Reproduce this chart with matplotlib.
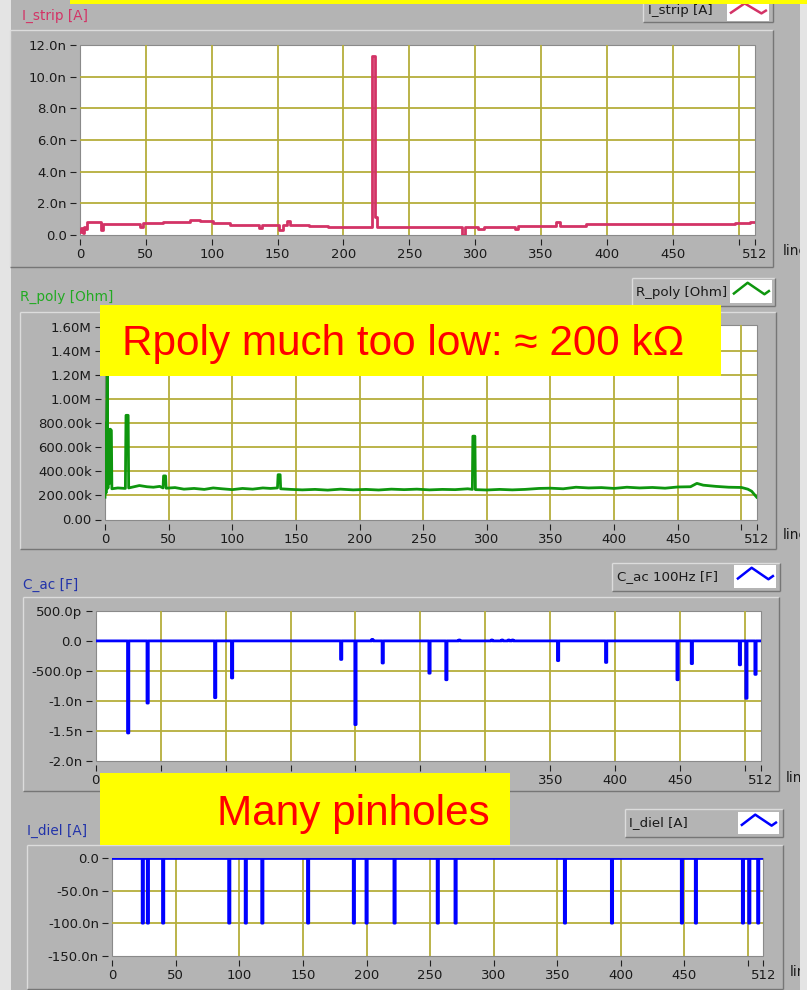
import matplotlib.pyplot as plt
import numpy as np
from matplotlib.lines import Line2D
from matplotlib.patches import Rectangle

W, H = 807, 990

# --------------------------------------------------
# Data
# --------------------------------------------------

n_strips = 512
strip_ticks = [0, 50, 100, 150, 200, 250, 300, 350, 400, 450, 500, 512]
strip_tick_labels = ["0", "50", "100", "150", "200", "250", "300", "350",
                     "400", "450", "", "512"]
grid_strips = [50, 100, 150, 200, 250, 300, 350, 400, 450, 500]

# I_strip [nA], step breakpoints (strip, value)
istrip_x = [0, 1, 2, 3, 4, 5.6, 15.7, 17.7, 45.6, 48, 63, 67, 83.6, 91,
            101, 114, 135.5, 138, 151, 154, 157, 159.5, 173.5, 188.6,
            222, 223.6, 225.4, 289.6, 292, 302, 307, 330, 332.5, 361.6,
            364, 384, 497, 508.6, 512]
istrip_y = [0.20, 0.45, 0.15, 0.50, 0.35, 0.80, 0.32, 0.69, 0.48, 0.74,
            0.84, 0.80, 0.93, 0.86, 0.74, 0.63, 0.42, 0.61, 0.30, 0.61,
            0.90, 0.61, 0.57, 0.53, 11.30, 1.15, 0.53, 0.00, 0.53, 0.40,
            0.53, 0.40, 0.55, 0.84, 0.57, 0.67, 0.74, 0.80, 0.80]

# R_poly [kOhm]
rpoly_x = [0, 0.3, 0.8, 1.3, 1.8, 2.3, 3, 3.6, 4.2, 5, 5.4, 10, 16, 16.5,
           18.2, 18.6, 22, 27, 33, 38, 43, 45.6, 46, 47.6, 48, 55, 62, 70,
           78, 85, 92, 100, 108, 116, 124, 130, 135.5, 136, 137.6, 138,
           146, 155, 165, 175, 185, 195, 205, 215, 225, 235, 245, 255, 265,
           275, 285, 288.6, 289, 290.6, 291, 300, 310, 320, 330, 341, 350,
           360, 370, 380, 390, 400, 410, 420, 430, 440, 450, 460, 465, 470,
           480, 490, 500, 505, 508, 512]
rpoly_y = [185, 800, 220, 800, 1190, 260, 750, 300, 750, 740, 255, 262,
           258, 865, 865, 262, 270, 282, 272, 268, 275, 262, 362, 362, 260,
           265, 252, 258, 250, 262, 255, 248, 258, 252, 262, 258, 262, 372,
           372, 255, 250, 246, 250, 244, 252, 246, 250, 245, 252, 248, 252,
           246, 250, 248, 255, 250, 692, 692, 248, 245, 250, 246, 250, 258,
           260, 255, 268, 262, 265, 258, 268, 262, 266, 260, 270, 272, 300,
           285, 275, 268, 266, 252, 235, 185]

# C_ac 100Hz [pF]: defective strips
cac_strips = [25, 40, 92, 105, 189, 200, 221, 257, 270, 356, 393, 448, 459,
              496, 501, 508]
cac_values = [-1540, -1040, -950, -620, -310, -1400, -370, -540, -650,
              -330, -360, -650, -380, -400, -960, -560]
cac_blip_strips = [213, 280, 305, 313, 318, 321]
cac_blip_values = [25, 15, 15, 15, 15, 15]

# I_diel [nA]: pinholes
idiel_strips = [24, 28, 40, 92, 105, 118, 154, 190, 200, 222, 256, 270,
                356, 393, 448, 459, 496, 501, 508]
idiel_values = [-100] * len(idiel_strips)

# --------------------------------------------------
# Style
# --------------------------------------------------

PANEL = "#B4B4B4"
GRID = "#B5AE3C"
TXT = "#1A1A1A"
CRIMSON = "#D33366"
GREEN = "#0E960E"
BLUE = "#0000FF"

fig = plt.figure(figsize=(W / 100, H / 100), dpi=100, facecolor="#E4E4E4")


def fx(x):
    return x / W


def fy(y):
    return 1 - y / H


def px_axes(x0, y0, x1, y1):
    return fig.add_axes([x0 / W, 1 - y1 / H, (x1 - x0) / W, (y1 - y0) / H])


def rect(x0, y0, x1, y1, color, z):
    fig.add_artist(Rectangle((fx(x0), fy(y1)), fx(x1) - fx(x0),
                             fy(y0) - fy(y1), transform=fig.transFigure,
                             facecolor=color, edgecolor="none", zorder=z))


def seg(xs, ys, color, z, lw=1.0):
    fig.add_artist(Line2D([fx(x) for x in xs], [fy(y) for y in ys],
                          transform=fig.transFigure, color=color, lw=lw,
                          zorder=z, solid_capstyle="butt"))


def bevel(x0, y0, x1, y1, z=-1, face=None):
    if face:
        rect(x0, y0, x1, y1, face, z)
    seg([x0, x1], [y0, y0], "#DCDCDC", z + 0.1)
    seg([x0, x0], [y0, y1], "#DCDCDC", z + 0.1)
    seg([x0, x1], [y1, y1], "#767676", z + 0.1)
    seg([x1, x1], [y0, y1], "#767676", z + 0.1)


def legend_box(box, text_x, text_y, label, swatch, color):
    bevel(*box, z=2, face=PANEL)
    fig.text(fx(text_x), fy(text_y), label, ha="left", va="center",
             fontsize=9.6, color=TXT, zorder=3)
    sx0, sy0, sx1, sy1 = swatch
    rect(sx0, sy0, sx1, sy1, "white", 3)
    w, h = sx1 - sx0, sy1 - sy0
    shape = [(0.07, 0.62), (0.42, 0.12), (0.82, 0.62), (0.95, 0.45)]
    seg([sx0 + a * w for a, _ in shape], [sy0 + b * h for _, b in shape],
        color, 4, lw=1.8)


def style_axes(ax, yticks, ylabels, hgrid):
    ax.set_facecolor("white")
    ax.patch.set_edgecolor("#8A8A8A")
    ax.patch.set_linewidth(0.8)
    for side in ["left", "bottom"]:
        ax.spines[side].set_position(("outward", 3))
    for sp in ax.spines.values():
        sp.set_visible(False)
    ax.set_xlim(0, n_strips)
    ax.set_xticks(strip_ticks)
    ax.set_xticklabels(strip_tick_labels)
    ax.set_yticks(yticks)
    ax.set_yticklabels(ylabels)
    ax.tick_params(direction="out", length=4.2, width=0.8, color="#202020",
                   labelsize=9.5, labelcolor=TXT, pad=2.4)
    for g in grid_strips:
        ax.axvline(g, color=GRID, lw=1.3, zorder=1)
    for g in hgrid:
        ax.axhline(g, color=GRID, lw=1.3, zorder=1)


# --------------------------------------------------
# Background and panel frames
# --------------------------------------------------

rect(11, 0, 800, H, PANEL, -3)
bevel(10, 30, 773, 267)
bevel(20, 312, 776, 549)
bevel(23, 597, 779, 791)
bevel(27, 845, 783, 989)

# --------------------------------------------------
# I_strip
# --------------------------------------------------

ax1 = px_axes(80, 45, 754.5, 235)
style_axes(ax1, [0, 2, 4, 6, 8, 10, 12],
           ["0.0", "2.0n", "4.0n", "6.0n", "8.0n", "10.0n", "12.0n"],
           [2, 4, 6, 8, 10])
ax1.set_ylim(0, 12)
ax1.plot(istrip_x, istrip_y, drawstyle="steps-post", color=CRIMSON,
         lw=2.0, zorder=2)
fig.text(fx(22), fy(16), "I_strip [A]", color=CRIMSON, fontsize=9.8,
         va="center")
legend_box((643, -2, 773, 22), 648, 10.5, "I_strip [A]",
           (727, 1, 769, 21), CRIMSON)
fig.text(fx(783), fy(251), "line", color=TXT, fontsize=9.8, va="center")

# --------------------------------------------------
# R_poly
# --------------------------------------------------

ax2 = px_axes(105, 325, 756.7, 519.5)
style_axes(ax2, [0, 200, 400, 600, 800, 1000, 1200, 1400, 1600],
           ["0.00", "200.00k", "400.00k", "600.00k", "800.00k", "1.00M",
            "1.20M", "1.40M", "1.60M"],
           [200, 400, 600, 800, 1000, 1200, 1400])
ax2.set_ylim(0, 1615)
ax2.plot(rpoly_x, rpoly_y, color=GREEN, lw=2.0, zorder=2)
fig.text(fx(20), fy(297), "R_poly [Ohm]", color="#22AA22", fontsize=9.8,
         va="center")
legend_box((632, 278, 775, 306), 636, 292.5, "R_poly [Ohm]",
           (730, 280, 772, 303), GREEN)
fig.text(fx(783), fy(535), "line", color=TXT, fontsize=9.8, va="center")

# --------------------------------------------------
# C_ac
# --------------------------------------------------

strips = np.arange(n_strips + 1)
cac = np.zeros(n_strips + 1)
cac[cac_strips] = cac_values
cac[cac_blip_strips] = cac_blip_values

ax3 = px_axes(95.7, 611, 760.7, 760.5)
style_axes(ax3, [500, 0, -500, -1000, -1500, -2000],
           ["500.0p", "0.0", "-500.0p", "-1.0n", "-1.5n", "-2.0n"],
           [-500, -1000, -1500])
ax3.set_ylim(-2000, 500)
ax3.plot(strips, cac, drawstyle="steps-mid", color=BLUE, lw=2.0, zorder=2)
fig.text(fx(23), fy(585), "C_ac [F]", color="#2233AA", fontsize=9.8,
         va="center")
legend_box((612, 563, 780, 591), 617, 577, "C_ac 100Hz [F]",
           (734, 565, 776, 588), BLUE)
fig.text(fx(786), fy(778), "line", color=TXT, fontsize=9.8, va="center")

# --------------------------------------------------
# I_diel
# --------------------------------------------------

idiel = np.zeros(n_strips + 1)
idiel[idiel_strips] = idiel_values

ax4 = px_axes(112.3, 857.5, 763.3, 955.5)
style_axes(ax4, [0, -50, -100, -150],
           ["0.0", "-50.0n", "-100.0n", "-150.0n"],
           [-50, -100])
ax4.set_ylim(-150, 1.5)
ax4.plot(strips, idiel, drawstyle="steps-mid", color=BLUE, lw=2.0, zorder=2)
fig.text(fx(27), fy(831), "I_diel [A]", color="#2233AA", fontsize=9.8,
         va="center")
legend_box((625, 809, 783, 837), 629, 823, "I_diel [A]",
           (738, 812, 779, 834), BLUE)
fig.text(fx(790), fy(972), "line", color=TXT, fontsize=9.8, va="center")

# --------------------------------------------------
# Annotations
# --------------------------------------------------

note_font = ["Liberation Sans", "DejaVu Sans"]
rect(100, 305, 721, 376, "#FFFF00", 5)
fig.text(fx(122), fy(355), "Rpoly much too low: \u2248 200 k\u03a9",
         color="#FF0000", fontsize=30.4, family=note_font, va="baseline",
         zorder=6)
rect(100, 773, 510, 845, "#FFFF00", 5)
fig.text(fx(217), fy(825), "Many pinholes", color="#FF0000", fontsize=30.4,
         family=note_font, va="baseline", zorder=6)

rect(800, 0, W, H, "#E4E4E4", 20)
rect(70, 0, W, 3.5, "#FFFF00", 21)

fig.savefig("out.png", dpi=100, facecolor=fig.get_facecolor())
